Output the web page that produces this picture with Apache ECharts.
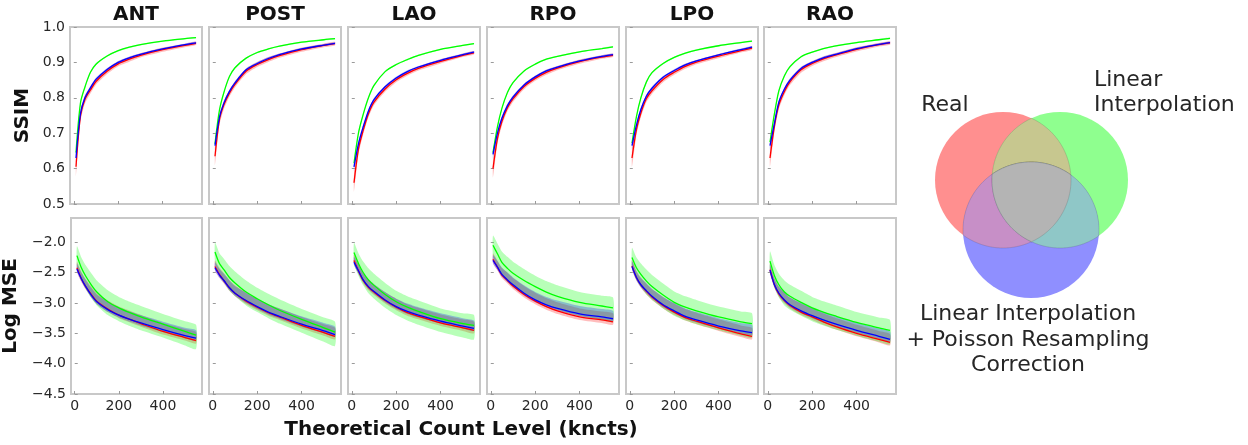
<!DOCTYPE html>
<html>
<head>
<meta charset="utf-8">
<script src="https://cdn.jsdelivr.net/npm/echarts@6/dist/echarts.min.js"></script>
<style>
  html, body { margin: 0; padding: 0; background: #fff; }
  #chart { width: 1248px; height: 445px; }
</style>
</head>
<body>
<div id="chart"></div>
<script>
const views = ['ANT', 'POST', 'LAO', 'RPO', 'LPO', 'RAO'];
const countLevels = [10, 30, 50, 75, 100, 150, 200, 250, 300, 400, 500, 550];
const xTicks = [0, 200, 400];
const ssimTicks = [0.5, 0.6, 0.7, 0.8, 0.9, 1.0];
const mseTicks = [-4.5, -4.0, -3.5, -3.0, -2.5, -2.0];

// SSIM, one row per view (ANT, POST, LAO, RPO, LPO, RAO)
const ssimReal = [
  [0.605, 0.748, 0.795, 0.822, 0.846, 0.875, 0.896, 0.909, 0.920, 0.936, 0.948, 0.954],
  [0.635, 0.738, 0.780, 0.813, 0.838, 0.875, 0.894, 0.908, 0.919, 0.936, 0.948, 0.953],
  [0.560, 0.655, 0.705, 0.755, 0.788, 0.825, 0.851, 0.869, 0.883, 0.903, 0.920, 0.927],
  [0.600, 0.685, 0.733, 0.772, 0.797, 0.832, 0.855, 0.872, 0.884, 0.902, 0.915, 0.920],
  [0.630, 0.710, 0.757, 0.798, 0.820, 0.852, 0.872, 0.889, 0.901, 0.918, 0.933, 0.940],
  [0.630, 0.720, 0.780, 0.818, 0.845, 0.879, 0.897, 0.910, 0.920, 0.937, 0.950, 0.955]
];
const ssimLinear = [
  [0.645, 0.785, 0.830, 0.872, 0.895, 0.918, 0.933, 0.943, 0.950, 0.960, 0.967, 0.970],
  [0.670, 0.765, 0.815, 0.860, 0.885, 0.912, 0.928, 0.938, 0.946, 0.957, 0.964, 0.967],
  [0.615, 0.700, 0.750, 0.800, 0.835, 0.874, 0.894, 0.908, 0.920, 0.937, 0.948, 0.953],
  [0.645, 0.718, 0.770, 0.815, 0.843, 0.876, 0.895, 0.909, 0.917, 0.930, 0.939, 0.944],
  [0.672, 0.747, 0.800, 0.845, 0.871, 0.897, 0.914, 0.926, 0.935, 0.947, 0.956, 0.960],
  [0.675, 0.755, 0.820, 0.862, 0.888, 0.916, 0.929, 0.939, 0.946, 0.956, 0.964, 0.968]
];
const ssimPoisson = [
  [0.630, 0.755, 0.800, 0.828, 0.852, 0.880, 0.900, 0.913, 0.923, 0.938, 0.950, 0.955],
  [0.665, 0.745, 0.785, 0.818, 0.842, 0.879, 0.897, 0.911, 0.922, 0.938, 0.949, 0.954],
  [0.605, 0.670, 0.715, 0.763, 0.795, 0.831, 0.856, 0.874, 0.887, 0.906, 0.922, 0.929],
  [0.640, 0.700, 0.742, 0.778, 0.802, 0.836, 0.859, 0.876, 0.887, 0.904, 0.917, 0.922],
  [0.665, 0.723, 0.767, 0.805, 0.827, 0.858, 0.877, 0.893, 0.904, 0.921, 0.936, 0.943],
  [0.665, 0.728, 0.788, 0.825, 0.850, 0.883, 0.900, 0.913, 0.922, 0.939, 0.951, 0.956]
];
// SSIM band half-widths (shared by all views)
const ssimRealSd = [0.025, 0.015, 0.012, 0.010, 0.009, 0.008, 0.007, 0.007, 0.006, 0.006, 0.005, 0.005];
const ssimLinearSd = [0.006, 0.004, 0.003, 0.003, 0.003, 0.002, 0.002, 0.002, 0.002, 0.002, 0.002, 0.002];
const ssimPoissonSd = [0.012, 0.008, 0.006, 0.005, 0.005, 0.004, 0.004, 0.004, 0.003, 0.003, 0.003, 0.003];

// Log MSE, one row per view
const mseReal = [
  [-2.42, -2.60, -2.73, -2.86, -2.97, -3.10, -3.20, -3.27, -3.34, -3.47, -3.57, -3.62],
  [-2.40, -2.53, -2.63, -2.75, -2.84, -2.97, -3.07, -3.16, -3.23, -3.37, -3.49, -3.55],
  [-2.30, -2.47, -2.62, -2.74, -2.82, -2.96, -3.07, -3.16, -3.22, -3.33, -3.41, -3.45],
  [-2.28, -2.41, -2.54, -2.63, -2.72, -2.86, -2.97, -3.06, -3.13, -3.23, -3.28, -3.31],
  [-2.39, -2.58, -2.70, -2.81, -2.90, -3.04, -3.15, -3.24, -3.30, -3.41, -3.51, -3.55],
  [-2.45, -2.70, -2.85, -2.96, -3.04, -3.15, -3.23, -3.31, -3.38, -3.50, -3.60, -3.65]
];
const mseLinear = [
  [-2.22, -2.42, -2.56, -2.70, -2.82, -2.98, -3.08, -3.16, -3.23, -3.35, -3.47, -3.53],
  [-2.16, -2.35, -2.45, -2.58, -2.67, -2.82, -2.93, -3.03, -3.12, -3.27, -3.41, -3.48],
  [-2.17, -2.35, -2.49, -2.62, -2.71, -2.86, -2.98, -3.07, -3.14, -3.26, -3.34, -3.37],
  [-2.05, -2.19, -2.33, -2.43, -2.51, -2.63, -2.73, -2.82, -2.89, -2.99, -3.05, -3.08],
  [-2.25, -2.42, -2.53, -2.64, -2.73, -2.87, -2.99, -3.07, -3.13, -3.23, -3.31, -3.34],
  [-2.31, -2.55, -2.70, -2.82, -2.89, -2.99, -3.08, -3.15, -3.21, -3.32, -3.41, -3.45]
];
const msePoisson = [
  [-2.44, -2.60, -2.73, -2.87, -2.98, -3.11, -3.20, -3.27, -3.33, -3.44, -3.54, -3.58],
  [-2.42, -2.54, -2.63, -2.75, -2.84, -2.96, -3.06, -3.15, -3.22, -3.35, -3.46, -3.52],
  [-2.33, -2.47, -2.61, -2.73, -2.81, -2.95, -3.06, -3.14, -3.20, -3.30, -3.38, -3.42],
  [-2.30, -2.41, -2.53, -2.62, -2.70, -2.84, -2.95, -3.03, -3.09, -3.18, -3.23, -3.26],
  [-2.40, -2.58, -2.70, -2.80, -2.89, -3.03, -3.13, -3.22, -3.28, -3.38, -3.46, -3.49],
  [-2.46, -2.70, -2.84, -2.95, -3.03, -3.13, -3.21, -3.28, -3.34, -3.45, -3.55, -3.60]
];
// Log MSE band extents above / below the mean (shared by all views)
const mseRealUp = [0.10, 0.11, 0.12, 0.13, 0.13, 0.14, 0.14, 0.14, 0.14, 0.14, 0.14, 0.14];
const mseRealDown = [0.06, 0.05, 0.05, 0.05, 0.05, 0.05, 0.05, 0.05, 0.05, 0.05, 0.05, 0.05];
const mseLinearUp = [0.16, 0.17, 0.18, 0.19, 0.19, 0.19, 0.18, 0.18, 0.18, 0.17, 0.17, 0.17];
const mseLinearDown = [0.18, 0.20, 0.21, 0.22, 0.22, 0.22, 0.22, 0.22, 0.22, 0.22, 0.23, 0.23];
const msePoissonUp = [0.09, 0.10, 0.11, 0.12, 0.12, 0.13, 0.13, 0.13, 0.13, 0.13, 0.13, 0.13];
const msePoissonDown = [0.05, 0.05, 0.04, 0.04, 0.04, 0.04, 0.04, 0.04, 0.04, 0.04, 0.04, 0.04];

const vennNames = ['Real', 'Linear\nInterpolation', 'Linear Interpolation\n+ Poisson Resampling\nCorrection'];

const FONT = 'DejaVu Sans';
const TXT = '#262626';
const lineColors = ['#ff0000', '#00ff00', '#0000ff'];
const bandColors = ['rgba(255,0,0,0.26)', 'rgba(0,255,0,0.28)', 'rgba(0,0,255,0.26)'];

const colLeft = [70, 209, 348, 487, 626, 764];
const panelW = 132;
const rows = [
  { top: 27, height: 177, min: 0.5, max: 1.0, ticks: ssimTicks, name: 'SSIM', gap: 37,
    data: [ssimReal, ssimLinear, ssimPoisson],
    up: [ssimRealSd, ssimLinearSd, ssimPoissonSd], down: [ssimRealSd, ssimLinearSd, ssimPoissonSd] },
  { top: 218, height: 176, min: -4.5, max: -1.6, ticks: mseTicks, name: 'Log MSE', gap: 50,
    data: [mseReal, mseLinear, msePoisson],
    up: [mseRealUp, mseLinearUp, msePoissonUp], down: [mseRealDown, mseLinearDown, msePoissonDown] }
];

const grid = [], xAxis = [], yAxis = [], series = [], graphic = [];

// one filled polygon (mean + up / mean - down) drawn through the panel's own axes
function bandSeries(gi, mean, up, down, color) {
  const lo = mean.map((m, i) => m - down[i]);
  const hi = mean.map((m, i) => m + up[i]);
  return {
    type: 'custom', xAxisIndex: gi, yAxisIndex: gi, z: 2, silent: true, clip: true,
    data: countLevels.map((x, i) => [x, lo[i], hi[i]]),
    encode: { x: 0, y: [1, 2] },
    renderItem: (params, api) => {
      if (params.dataIndex !== 0) return null;
      const upper = countLevels.map((x, i) => api.coord([x, hi[i]]));
      const lower = countLevels.map((x, i) => api.coord([x, lo[i]])).reverse();
      return { type: 'polygon', shape: { points: upper.concat(lower), smooth: 0.2 },
        style: { fill: color } };
    }
  };
}

rows.forEach((row, r) => {
  views.forEach((view, c) => {
    const gi = grid.length;
    grid.push({ left: colLeft[c], top: row.top, width: panelW, height: row.height,
      show: true, borderColor: '#c8c8c8', borderWidth: 2, backgroundColor: 'transparent' });
    xAxis.push({
      gridIndex: gi, type: 'value', min: -17, max: 577,
      axisLine: { show: false }, splitLine: { show: false },
      axisTick: { show: true, inside: true, length: 3, customValues: xTicks, lineStyle: { color: '#9a9a9a' } },
      axisLabel: { show: r === 1, customValues: xTicks, margin: 5, color: TXT, fontFamily: FONT, fontSize: 14,
        formatter: (v) => String(v) }
    });
    yAxis.push({
      gridIndex: gi, type: 'value', min: row.min, max: row.max,
      name: c === 0 ? row.name : '', nameLocation: 'middle', nameGap: row.gap, nameRotate: 90,
      nameTextStyle: { fontFamily: FONT, fontSize: 20, fontWeight: 'bold', color: '#111' },
      axisLine: { show: false }, splitLine: { show: false },
      axisTick: { show: true, inside: true, length: 3, customValues: row.ticks, lineStyle: { color: '#9a9a9a' } },
      axisLabel: { show: c === 0, customValues: row.ticks, margin: 5, color: TXT, fontFamily: FONT, fontSize: 14,
        formatter: (v) => v.toFixed(1).replace('-', '\u2212') }
    });

    [0, 1, 2].forEach((k) => {
      series.push(bandSeries(gi, row.data[k][c], row.up[k], row.down[k], bandColors[k]));
    });
    [0, 1, 2].forEach((k) => {
      const mean = row.data[k][c];
      series.push({
        type: 'line', xAxisIndex: gi, yAxisIndex: gi, smooth: 0.3, z: 3,
        showSymbol: false, symbol: 'none', silent: true,
        lineStyle: { color: lineColors[k], width: 1.3 },
        data: countLevels.map((x, i) => [x, mean[i]])
      });
    });

    if (r === 0) {
      graphic.push({ type: 'text', x: colLeft[c] + panelW / 2, y: 15, silent: true,
        style: { text: view, fontFamily: FONT, fontSize: 20, fontWeight: 'bold', fill: '#111',
          textAlign: 'center', textVerticalAlign: 'middle' } });
    }
  });
});

graphic.push({ type: 'text', x: 461, y: 430, silent: true,
  style: { text: 'Theoretical Count Level (kncts)', fontFamily: FONT, fontSize: 20, fontWeight: 'bold',
    fill: '#111', textAlign: 'center', textVerticalAlign: 'middle' } });

// Venn diagram: each region coloured separately (alpha-mixed colours)
const R = 68;
const circles = [[1003, 180], [1060, 180], [1031, 230]];
const alpha = 0.44;
const mix = (rgb) => 'rgb(' + rgb.map((v) => Math.round(255 * (1 - alpha) + v * alpha)).join(',') + ')';
const base = [[255, 0, 0], [0, 255, 0], [0, 0, 255]];
const mixed = (ids) => mix([0, 1, 2].map((ch) => ids.reduce((s, i) => s + base[i][ch], 0) / ids.length));

function regionPoints(ids) {
  const pts = [];
  ids.forEach((i) => {
    for (let a = 0; a < 360; a += 0.5) {
      const t = a * Math.PI / 180;
      const p = [circles[i][0] + R * Math.cos(t), circles[i][1] + R * Math.sin(t)];
      const inside = ids.every((j) => j === i ||
        Math.hypot(p[0] - circles[j][0], p[1] - circles[j][1]) <= R + 0.01);
      if (inside) pts.push(p);
    }
  });
  const cx = pts.reduce((s, p) => s + p[0], 0) / pts.length;
  const cy = pts.reduce((s, p) => s + p[1], 0) / pts.length;
  pts.sort((p, q) => Math.atan2(p[1] - cy, p[0] - cx) - Math.atan2(q[1] - cy, q[0] - cx));
  return pts;
}

[[0], [1], [2], [0, 1], [0, 2], [1, 2], [0, 1, 2]].forEach((ids) => {
  if (ids.length === 1) {
    graphic.push({ type: 'circle', silent: true, shape: { cx: circles[ids[0]][0], cy: circles[ids[0]][1], r: R },
      style: { fill: mixed(ids) } });
  } else {
    graphic.push({ type: 'polygon', silent: true, shape: { points: regionPoints(ids) },
      style: { fill: mixed(ids), stroke: 'rgba(60,60,60,0.25)', lineWidth: 0.7 } });
  }
});

const vennText = { fontFamily: FONT, fontSize: 22, fill: TXT, lineHeight: 25.5 };
graphic.push({ type: 'text', x: 945, y: 105, silent: true,
  style: Object.assign({ text: vennNames[0], textAlign: 'center', textVerticalAlign: 'middle' }, vennText) });
graphic.push({ type: 'text', x: 1094, y: 93, silent: true,
  style: Object.assign({ text: vennNames[1], textAlign: 'left', textVerticalAlign: 'middle' }, vennText) });
graphic.push({ type: 'text', x: 1028, y: 340, silent: true,
  style: Object.assign({ text: vennNames[2], textAlign: 'center', textVerticalAlign: 'middle' }, vennText) });

const chart = echarts.init(document.getElementById('chart'), null, { renderer: 'canvas' });
chart.setOption({
  animation: false,
  backgroundColor: '#fff',
  grid: grid,
  xAxis: xAxis,
  yAxis: yAxis,
  series: series,
  graphic: graphic
});
</script>
</body>
</html>
